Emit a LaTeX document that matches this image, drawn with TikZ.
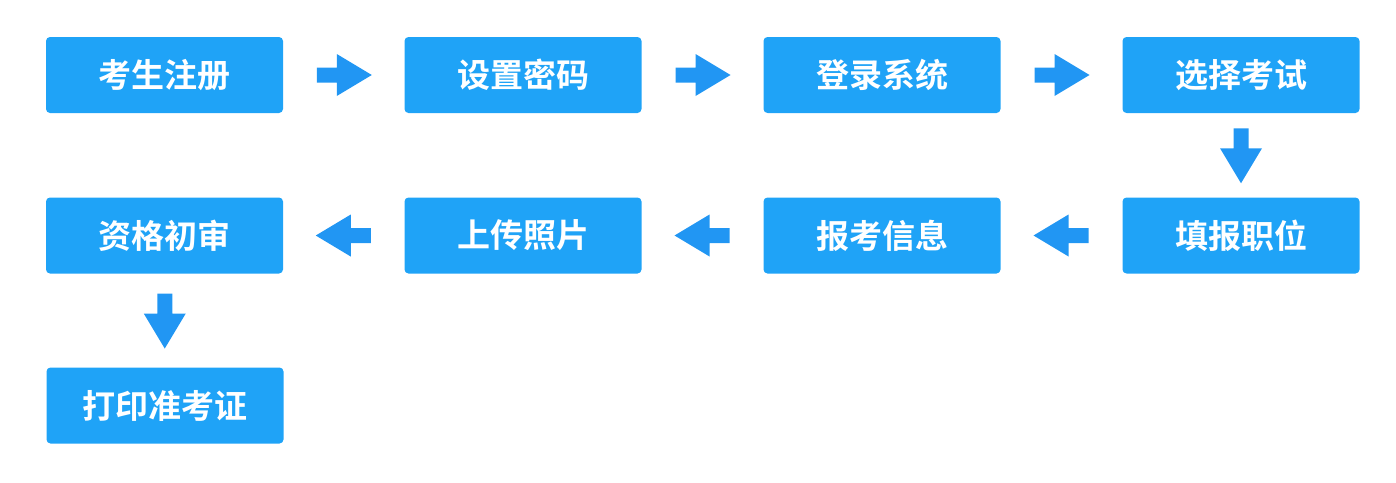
\documentclass[tikz,border=0pt]{standalone}
\usepackage{fontspec}
\usetikzlibrary{calc}
\newfontfamily\cjk{Noto Sans CJK SC Bold}
\definecolor{boxc}{HTML}{1FA3F7}
\definecolor{arrc}{HTML}{2196F3}
\tikzset{stepbox/.style={fill=boxc,rounded corners=4pt,minimum width=237pt,minimum height=76pt,inner sep=0pt,text=white,font=\cjk\fontsize{33}{36}\selectfont},
blockarrow/.style={fill=arrc,draw=none}}
\begin{document}
\begin{tikzpicture}[x=1pt,y=-1pt]
\useasboundingbox (0,0) rectangle (1396,482);
\node[stepbox] (a) at (164.5,75) {考生注册};
\node[stepbox] (b) at (523,75) {设置密码};
\node[stepbox] (c) at (882,75) {登录系统};
\node[stepbox] (d) at (1241,75) {选择考试};
\node[stepbox] (e) at (1241,235.5) {填报职位};
\node[stepbox] (f) at (882,235.5) {报考信息};
\node[stepbox] (g) at (523,235.5) {上传照片};
\node[stepbox] (h) at (164.5,235.5) {资格初审};
\node[stepbox] (i) at (165,405.5) {打印准考证};
% right arrows
\foreach \p/\q in {a/b,b/c,c/d}{
  \path ($(\p.east)!0.5!(\q.west)$) coordinate (m);
  \fill[blockarrow] ([shift={(-27,-7.5)}]m) -- ([shift={(-7,-7.5)}]m) -- ([shift={(-7,-21)}]m) -- ([shift={(28,0)}]m) -- ([shift={(-7,21)}]m) -- ([shift={(-7,7.5)}]m) -- ([shift={(-27,7.5)}]m) -- cycle;
}
% left arrows
\foreach \p/\q in {e/f,f/g,g/h}{
  \path ($(\p.west)!0.5!(\q.east)$) coordinate (m);
  \fill[blockarrow] ([shift={(27,-7.5)}]m) -- ([shift={(7,-7.5)}]m) -- ([shift={(7,-21)}]m) -- ([shift={(-28,0)}]m) -- ([shift={(7,21)}]m) -- ([shift={(7,7.5)}]m) -- ([shift={(27,7.5)}]m) -- cycle;
}
% down arrows
\foreach \p/\q in {d/e,h/i}{
  \path ($(\p.south)!0.5!(\q.north)$) coordinate (m);
  \fill[blockarrow] ([shift={(-7.5,-27)}]m) -- ([shift={(-7.5,-7)}]m) -- ([shift={(-21,-7)}]m) -- ([shift={(0,28)}]m) -- ([shift={(21,-7)}]m) -- ([shift={(7.5,-7)}]m) -- ([shift={(7.5,-27)}]m) -- cycle;
}
\end{tikzpicture}
\end{document}
